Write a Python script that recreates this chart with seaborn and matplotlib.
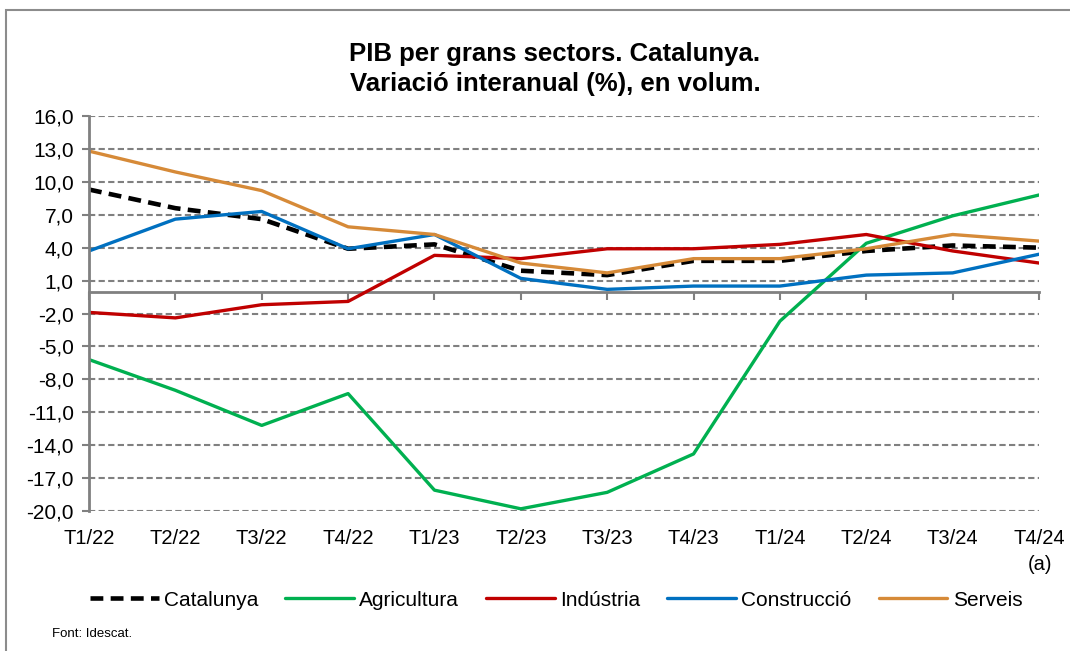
import matplotlib
matplotlib.use("Agg")
import matplotlib.pyplot as plt
import seaborn as sns
import pandas as pd
from matplotlib.patches import Rectangle

quarters = ["T1/22", "T2/22", "T3/22", "T4/22", "T1/23", "T2/23", "T3/23", "T4/23",
            "T1/24", "T2/24", "T3/24", "T4/24"]
catalunya = [9.3, 7.6, 6.6, 3.9, 4.3, 1.9, 1.5, 2.8, 2.8, 3.7, 4.2, 4.0]
agricultura = [-6.2, -9.0, -12.2, -9.3, -18.1, -19.8, -18.3, -14.8, -2.7, 4.4, 6.9, 8.8]
industria = [-1.9, -2.4, -1.2, -0.9, 3.3, 3.0, 3.9, 3.9, 4.3, 5.2, 3.7, 2.6]
construccio = [3.7, 6.6, 7.3, 3.9, 5.2, 1.2, 0.2, 0.5, 0.5, 1.5, 1.7, 3.4]
serveis = [12.8, 10.9, 9.2, 5.9, 5.2, 2.6, 1.7, 3.0, 3.0, 3.9, 5.2, 4.6]
y_ticks = [-20, -17, -14, -11, -8, -5, -2, 1, 4, 7, 10, 13, 16]

series = [
    ("Catalunya", catalunya, "black", 3.3, (0, (2.8, 1.6))),
    ("Agricultura", agricultura, "#00B050", 2.4, "-"),
    ("Indústria", industria, "#C00000", 2.4, "-"),
    ("Construcció", construccio, "#0070C0", 2.4, "-"),
    ("Serveis", serveis, "#D68A38", 2.4, "-"),
]

sns.set_style("white")
plt.rcParams["font.family"] = ["Liberation Sans", "DejaVu Sans"]
plt.rcParams["text.color"] = "black"
plt.rcParams["xtick.labelcolor"] = "black"
plt.rcParams["ytick.labelcolor"] = "black"

fig = plt.figure(figsize=(10.70, 6.51), dpi=100)
ax = fig.add_axes([89 / 1070, 1 - 511 / 651, (1039 - 89) / 1070, (511 - 116) / 651])

x = list(range(len(quarters)))
for name, vals, col, lw, ls in series:
    df = pd.DataFrame({"x": x, "y": vals})
    sns.lineplot(data=df, x="x", y="y", ax=ax, color=col, linewidth=lw,
                 linestyle=ls, label=name, legend=False)

ax.set_xlim(0, len(quarters) - 1)
ax.set_ylim(-20, 16)
ax.set_yticks(y_ticks)
ax.set_yticklabels([f"{v:.1f}".replace(".", ",") for v in y_ticks], fontsize=15)
ax.set_xticks(x)
ax.set_xticklabels(quarters, fontsize=14.5)
ax.set_xlabel("")
ax.set_ylabel("")
ax.tick_params(axis="x", length=0, pad=13, labelcolor="black")
ax.tick_params(axis="y", direction="out", length=5, width=1.5, color="#808080", pad=6,
               left=True, labelcolor="black")
ax.yaxis.grid(True, linestyle=(0, (3, 1.6)), color="#808080", linewidth=1.5)
ax.xaxis.grid(False)
ax.set_axisbelow(True)
for s in ["top", "right", "bottom"]:
    ax.spines[s].set_visible(False)
ax.spines["left"].set_color("#808080")
ax.spines["left"].set_linewidth(2)

# x axis crossing at 0
sec = ax.secondary_xaxis(20 / 36)
sec.set_xticks(x)
sec.set_xticklabels([""] * len(x))
sec.tick_params(axis="x", direction="in", length=6, width=1.5, color="#808080",
                labelbottom=False, labeltop=False)
for s in sec.spines:
    sec.spines[s].set_color("#808080")
    sec.spines[s].set_linewidth(2)
for s in ["left", "right"]:
    if s in sec.spines:
        sec.spines[s].set_visible(False)

fig.text(1040 / 1070, 1 - 565 / 651, "(a)", ha="center", va="center", fontsize=14.5)

fig.text(555 / 1070, 1 - 69 / 651,
         "PIB per grans sectors. Catalunya.\nVariació interanual (%), en volum.",
         ha="center", va="center", fontsize=18.5, fontweight="bold", linespacing=1.35)

handles, labels = ax.get_legend_handles_labels()
fig.legend(handles, labels, loc="center", bbox_to_anchor=(556 / 1070, 1 - 600 / 651),
           ncol=5, frameon=False, fontsize=15, handlelength=3.3, handletextpad=0.25,
           columnspacing=1.3)

fig.text(52 / 1070, 1 - 634 / 651, "Font: Idescat.", ha="left", va="center", fontsize=9.5)

fig.patches.append(Rectangle((6 / 1070, -0.1), 1.2, 1 - 10 / 651 + 0.1, transform=fig.transFigure,
                             fill=False, edgecolor="#8c8c8c", linewidth=1.5))

fig.savefig("out.png", dpi=100)
